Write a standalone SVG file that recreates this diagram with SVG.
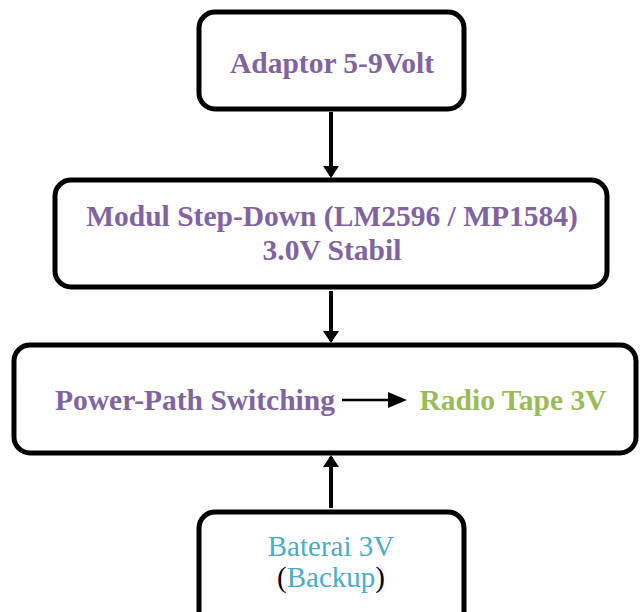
<svg xmlns="http://www.w3.org/2000/svg" width="641" height="612" viewBox="0 0 641 612">
<style>
.box{fill:#fff;stroke:#000;stroke-width:5}
.t{font-family:"Liberation Serif","Times New Roman",serif;font-weight:bold;font-size:29.5px;fill:#8064A2;text-anchor:middle}
.g{fill:#9BBB59}
.b{font-weight:normal;fill:#4BACC6;font-size:29px}
.line{stroke:#000;stroke-width:4;fill:none}
</style>
<defs>
<marker id="ah" markerWidth="4" markerHeight="4" refX="2.5" refY="2" orient="auto" markerUnits="strokeWidth">
<path d="M0,0 L3,2 L0,4 Z" fill="#000"/>
</marker>
</defs>
<g id="connectors">
<line class="line" x1="331" y1="112" x2="331" y2="176" marker-end="url(#ah)"/>
<line class="line" x1="331" y1="291" x2="331" y2="341" marker-end="url(#ah)"/>
<line class="line" x1="331" y1="508" x2="331" y2="457" marker-end="url(#ah)"/>
</g>
<g id="adaptor">
<rect class="box" x="199" y="12" width="265" height="97" rx="16"/>
<text class="t" x="332" y="73">Adaptor 5-9Volt</text>
</g>
<g id="stepdown">
<rect class="box" x="55" y="180" width="552" height="107" rx="16"/>
<text class="t" x="332" y="226">Modul Step-Down (LM2596 / MP1584)</text>
<text class="t" x="332" y="260">3.0V Stabil</text>
</g>
<g id="powerpath">
<rect class="box" x="14" y="345" width="622" height="108" rx="16"/>
<text class="t" x="195" y="410">Power-Path Switching</text>
<path d="M342 400 H390" stroke="#000" stroke-width="2.5" fill="none"/>
<path d="M388 392 L407 400 L388 408 Z" fill="#000"/>
<text class="t g" x="513" y="410">Radio Tape 3V</text>
</g>
<g id="baterai">
<rect class="box" x="199" y="512" width="265" height="120" rx="16"/>
<text class="t b" x="331" y="556">Baterai 3V</text>
<text class="t b" x="331" y="587"><tspan fill="#000">(</tspan>Backup<tspan fill="#000">)</tspan></text>
</g>
</svg>
